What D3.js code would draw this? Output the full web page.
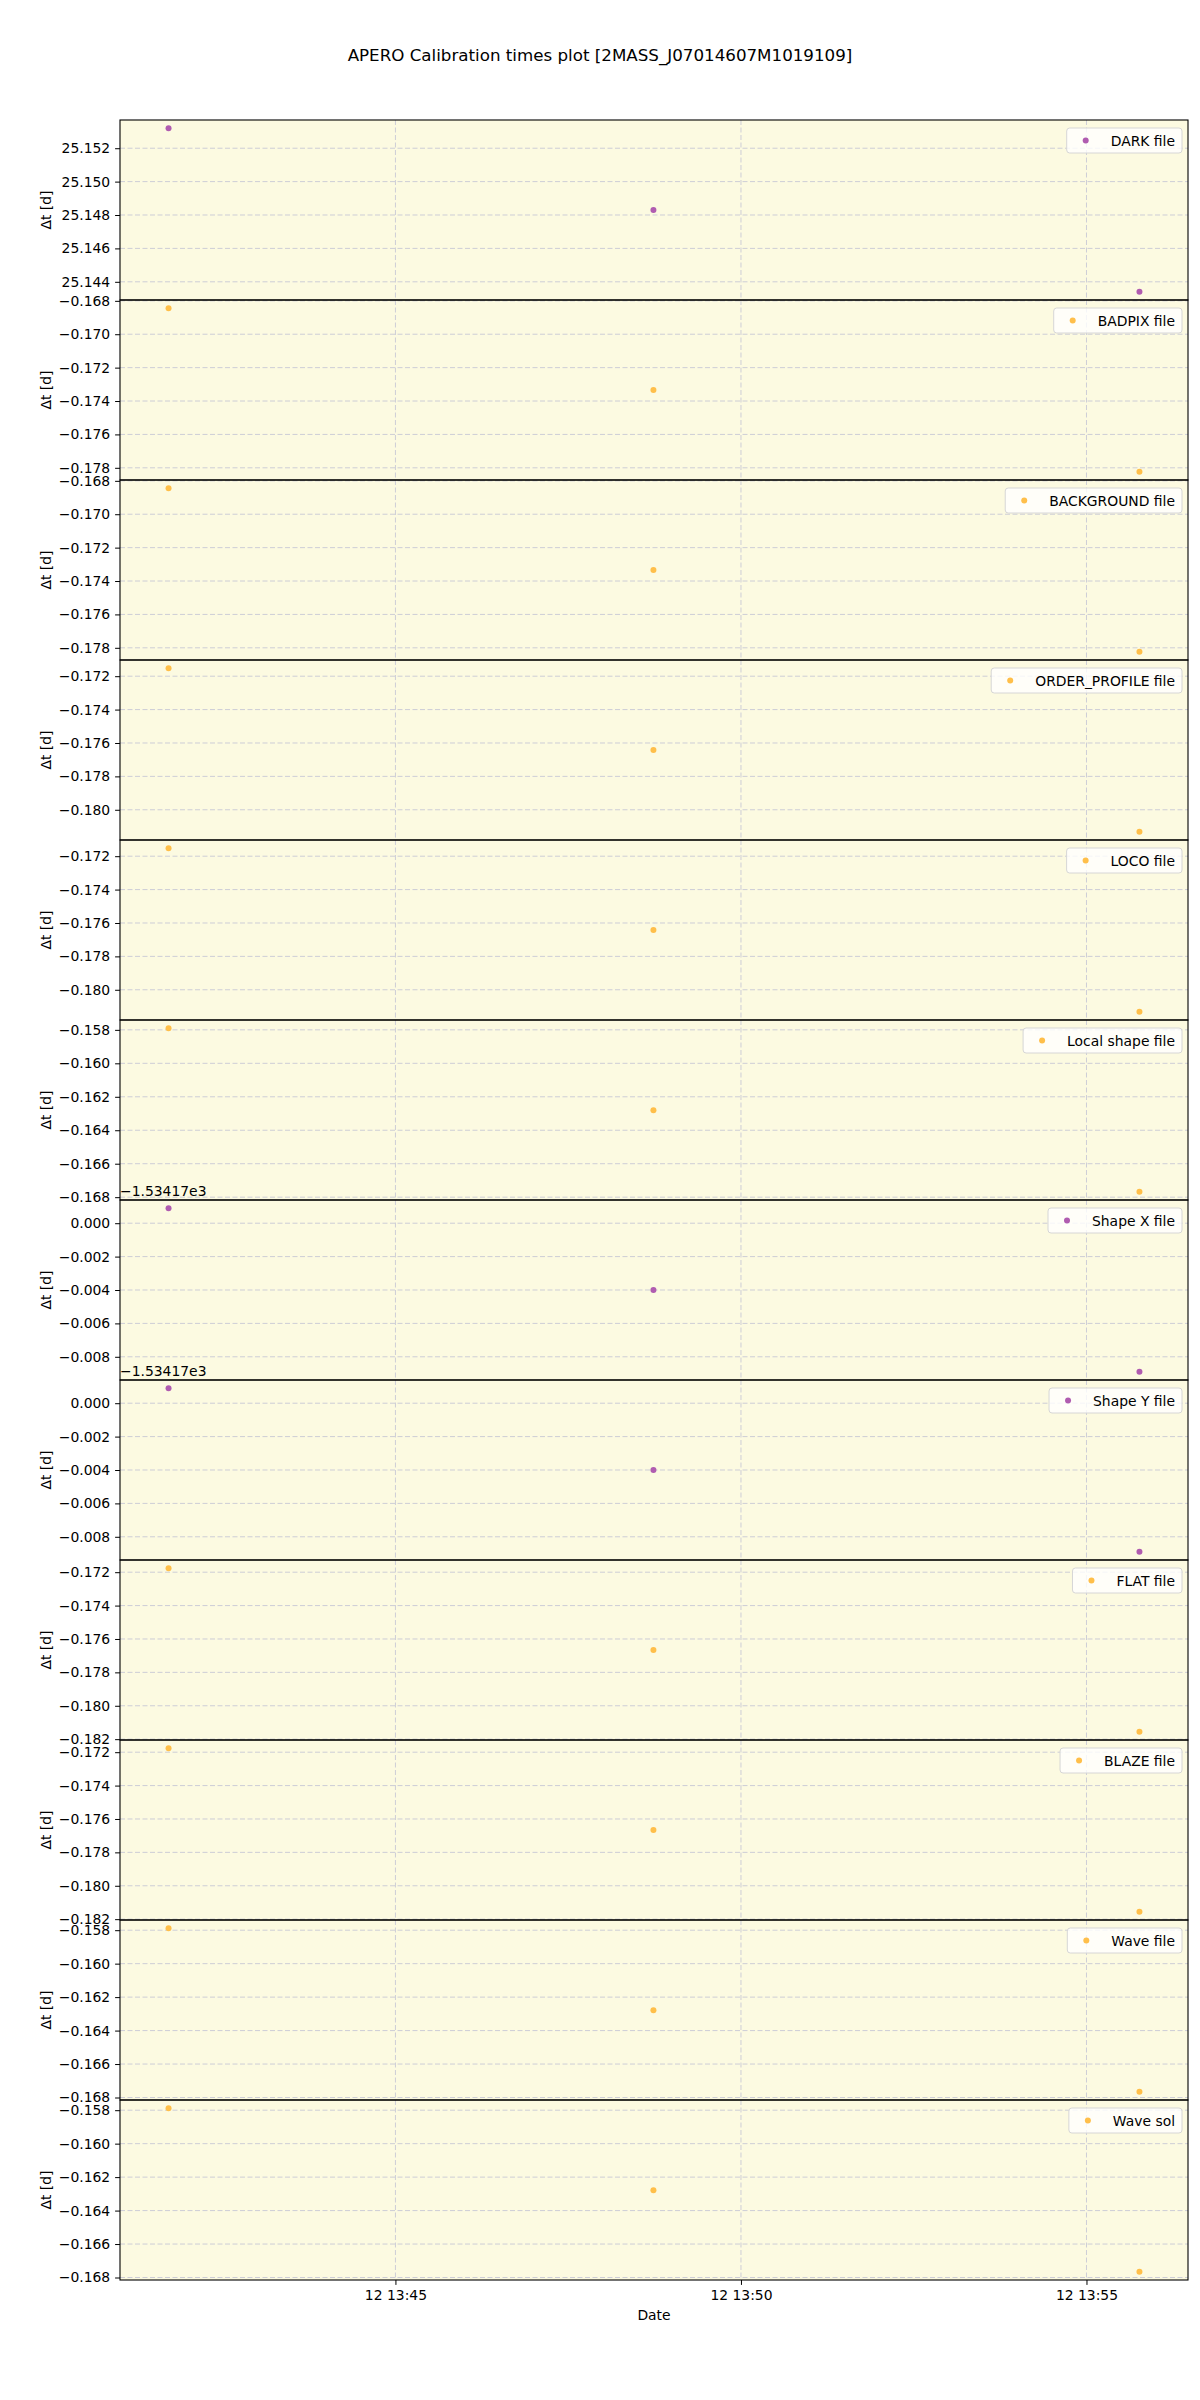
<!DOCTYPE html>
<html>
<head>
<meta charset="utf-8">
<script src="https://cdn.jsdelivr.net/npm/d3@7"></script>
<style>
  html, body { margin: 0; padding: 0; background: #ffffff; }
  svg { display: block; font-family: "DejaVu Sans", sans-serif; }
</style>
</head>
<body>
<svg id="chart" width="1200" height="2400"></svg>
<script>
// ---------------- DATA ----------------
const chartTitle = "APERO Calibration times plot [2MASS_J07014607M1019109]";
const obsTimes = ["2019-02-12T13:41:43Z", "2019-02-12T13:48:44Z", "2019-02-12T13:55:46Z"];
const panelNames = ["DARK file", "BADPIX file", "BACKGROUND file", "ORDER_PROFILE file", "LOCO file",
  "Local shape file", "Shape X file", "Shape Y file", "FLAT file", "BLAZE file", "Wave file", "Wave sol"];
const darkVals = [25.1532, 25.1483, 25.1434];
const badpixVals = [-0.16844, -0.17334, -0.17824];
const backgroundVals = [-0.16844, -0.17334, -0.17824];
const orderProfileVals = [-0.17152, -0.17642, -0.18132];
const locoVals = [-0.17152, -0.17642, -0.18132];
const localShapeVals = [-0.15790, -0.16280, -0.16768];
const shapeXVals = [-1534.16910, -1534.17400, -1534.17890];
const shapeYVals = [-1534.16910, -1534.17400, -1534.17890];
const flatVals = [-0.17176, -0.17666, -0.18156];
const blazeVals = [-0.17176, -0.17666, -0.18156];
const waveFileVals = [-0.15788, -0.16278, -0.16766];
const waveSolVals = [-0.15788, -0.16278, -0.16766];
const seriesValues = [darkVals, badpixVals, backgroundVals, orderProfileVals, locoVals, localShapeVals,
  shapeXVals, shapeYVals, flatVals, blazeVals, waveFileVals, waveSolVals];
const seriesKinds = ["purple", "orange", "orange", "orange", "orange", "orange",
  "purple", "purple", "orange", "orange", "orange", "orange"];
const offsetValues = [null, null, null, null, null, null, -1534.17, -1534.17, null, null, null, null];
const offsetLabels = [null, null, null, null, null, null, "\u22121.53417e3", "\u22121.53417e3", null, null, null, null];
const yLabel = "\u0394t [d]";
const xLabel = "Date";

// ---------------- LAYOUT ----------------
const svg = d3.select("#chart");
const left = 120, right = 1188, top0 = 120, panelH = 180;
const nP = panelNames.length;
const bottom = top0 + nP * panelH;
const fontPx = 13.9;
const colors = { purple: "#b05cb0", orange: "#ffbf4a" };
const bg = "#fcfae1";
const gridColor = "#cdcdd6";

const times = obsTimes.map(s => new Date(s));
const tExt = d3.extent(times);
const tPad = (tExt[1] - tExt[0]) * 0.05;
const x = d3.scaleUtc()
  .domain([new Date(+tExt[0] - tPad), new Date(+tExt[1] + tPad)])
  .range([left, right]);
const xTicks = x.ticks(d3.utcMinute.every(5));
const fmtY = d3.format(".3f");

svg.append("text")
  .attr("x", 600).attr("y", 61)
  .attr("text-anchor", "middle")
  .attr("font-size", 16.7)
  .attr("fill", "#000")
  .text(chartTitle);

panelNames.forEach((name, i) => {
  const pTop = top0 + i * panelH;
  const pBot = pTop + panelH;
  const vals = seriesValues[i];
  const ext = d3.extent(vals);
  const pad = (ext[1] - ext[0]) * 0.05;
  const y = d3.scaleLinear().domain([ext[0] - pad, ext[1] + pad]).range([pBot, pTop]);
  const g = svg.append("g");

  g.append("rect").attr("x", left).attr("y", pTop).attr("width", right - left).attr("height", panelH)
    .attr("fill", bg);

  const yTicks = y.ticks(6).filter(v => y(v) >= pTop - 0.5 && y(v) <= pBot + 0.5);
  // horizontal grid
  g.selectAll(".hg").data(yTicks).enter().append("line")
    .attr("x1", left).attr("x2", right)
    .attr("y1", d => y(d)).attr("y2", d => y(d))
    .attr("stroke", gridColor).attr("stroke-width", 1).attr("stroke-dasharray", "5,2.5");
  // vertical grid
  g.selectAll(".vg").data(xTicks).enter().append("line")
    .attr("x1", d => x(d)).attr("x2", d => x(d))
    .attr("y1", pTop).attr("y2", pBot)
    .attr("stroke", gridColor).attr("stroke-width", 1).attr("stroke-dasharray", "5,2.5");

  // y axis
  const off = offsetValues[i];
  const yAxis = d3.axisLeft(y).tickValues(yTicks).tickSize(4.9).tickPadding(4.9)
    .tickFormat(v => off === null ? fmtY(v) : fmtY(Math.round((v - off) * 1e6) / 1e6 + 0));
  const ya = g.append("g").attr("transform", `translate(${left},0)`).call(yAxis);
  ya.select(".domain").remove();
  ya.selectAll("text").attr("font-size", fontPx).attr("font-family", "DejaVu Sans").attr("fill", "#000");
  ya.selectAll("line").attr("stroke", "#000").attr("stroke-width", 1);

  // points
  g.selectAll(".pt").data(vals).enter().append("circle")
    .attr("cx", (d, j) => x(times[j])).attr("cy", d => y(d))
    .attr("r", 3).attr("fill", colors[seriesKinds[i]]);

  // y label
  g.append("text")
    .attr("transform", `translate(46,${(pTop + pBot) / 2}) rotate(-90)`)
    .attr("text-anchor", "middle").attr("dominant-baseline", "central")
    .attr("font-size", fontPx).attr("fill", "#000").text(yLabel);

  // legend
  const lg = g.append("g");
  const lt = lg.append("text").attr("font-size", fontPx).attr("fill", "#000")
    .attr("dominant-baseline", "central").text(name);
  const tw = lt.node().getComputedTextLength();
  const boxR = right - 6, boxT = pTop + 8, boxH = 25;
  const boxL = boxR - 7 - tw - 44;
  lg.insert("rect", "text").attr("x", boxL).attr("y", boxT).attr("width", boxR - boxL).attr("height", boxH)
    .attr("rx", 3).attr("fill", "#ffffff").attr("fill-opacity", 0.8)
    .attr("stroke", "#d6d6d6").attr("stroke-width", 1);
  lg.append("circle").attr("cx", boxL + 19).attr("cy", boxT + boxH / 2).attr("r", 3)
    .attr("fill", colors[seriesKinds[i]]);
  lt.attr("x", boxR - 7 - tw).attr("y", boxT + boxH / 2 + 0.5);

  // offset text
  if (offsetLabels[i]) {
    g.append("text").attr("x", left).attr("y", pTop - 4)
      .attr("font-size", fontPx).attr("fill", "#000").text(offsetLabels[i]);
  }
});

// panel frames (drawn after, so separators are single lines)
for (let i = 0; i < nP; i++) {
  const pTop = top0 + i * panelH;
  svg.append("rect").attr("x", left).attr("y", pTop).attr("width", right - left).attr("height", panelH)
    .attr("fill", "none").attr("stroke", "#000").attr("stroke-width", 1.1);
}

// bottom x axis
const xAxis = d3.axisBottom(x).tickValues(xTicks).tickSize(4.9).tickPadding(4.9)
  .tickFormat(d3.utcFormat("%d %H:%M"));
const xa = svg.append("g").attr("transform", `translate(0,${bottom})`).call(xAxis);
xa.select(".domain").remove();
xa.selectAll("text").attr("font-size", fontPx).attr("font-family", "DejaVu Sans").attr("fill", "#000");
xa.selectAll("line").attr("stroke", "#000");

svg.append("text").attr("x", (left + right) / 2).attr("y", 2320)
  .attr("text-anchor", "middle").attr("font-size", fontPx).attr("fill", "#000").text(xLabel);
</script>
</body>
</html>
